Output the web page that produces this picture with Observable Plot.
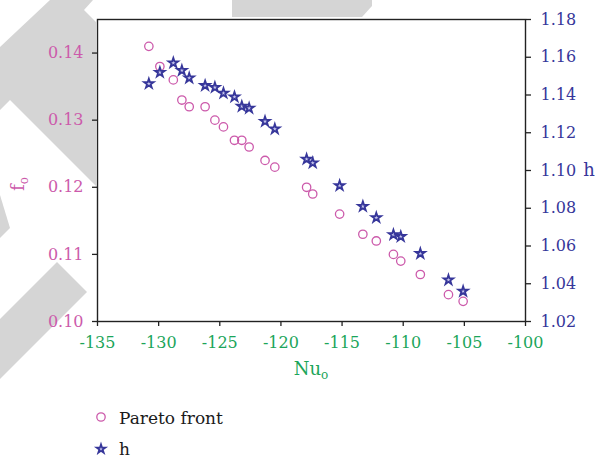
<!DOCTYPE html>
<html>
<head>
<meta charset="utf-8">
<script src="https://cdn.jsdelivr.net/npm/d3@7"></script>
<script src="https://cdn.jsdelivr.net/npm/@observablehq/plot@0.6"></script>
<style>
  body { margin: 0; background: #fff; font-family: "DejaVu Serif", serif; }
  #wrap { position: relative; width: 600px; height: 460px; overflow: hidden; }
  #wm, #chart { position: absolute; left: 0; top: 0; }
  #legend { position: absolute; left: 0; top: 0; width: 600px; height: 460px; }
  .row { position: absolute; left: 92px; display: flex; align-items: center; font-size: 17px; color: #1a1a1a; }
  .row svg { margin-right: 9px; }
  svg text { font-family: "DejaVu Serif", serif; }
</style>
</head>
<body>
<div id="wrap">
  <!-- faint background decoration -->
  <svg id="wm" width="600" height="460">
    <g fill="#d5d5d5">
      <polygon points="50,0 93,0 84,10 96,22 96,186 10,100 0,110 0,47"/>
      <polygon points="0,195 10,228 0,238"/>
      <polygon points="57,262 87,292 0,379 0,319"/>
      <polygon points="232,0 372,0 372,6 362,17 232,17"/>
    </g>
  </svg>
  <div id="chart"></div>
  <div id="legend"></div>
</div>
<script>
// Nusselt number of each Pareto-optimal design
const nu = [-130.8, -129.9, -128.8, -128.1, -127.5, -126.2, -125.4, -124.7, -123.8, -123.2, -122.6,
            -121.3, -120.5, -117.9, -117.4, -115.2, -113.3, -112.2, -110.8, -110.2, -108.6, -106.3, -105.1];
// friction factor f_o along the Pareto front
const fo = [0.141, 0.138, 0.136, 0.133, 0.132, 0.132, 0.130, 0.129, 0.127, 0.127, 0.126,
            0.124, 0.123, 0.120, 0.119, 0.116, 0.113, 0.112, 0.110, 0.109, 0.107, 0.104, 0.103];
// design variable h for the same designs
const hv = [1.146, 1.152, 1.157, 1.153, 1.149, 1.145, 1.144, 1.141, 1.139, 1.134, 1.133,
            1.126, 1.122, 1.106, 1.104, 1.092, 1.081, 1.075, 1.066, 1.065, 1.056, 1.042, 1.036];

const xTicks = [-135, -130, -125, -120, -115, -110, -105, -100];
const fTicks = [0.10, 0.11, 0.12, 0.13, 0.14];
const hTicks = [1.02, 1.04, 1.06, 1.08, 1.10, 1.12, 1.14, 1.16, 1.18];

const pink = "#cc5aab";
const navy = "#36369a";
const green = "#1ba55a";
const serif = "'DejaVu Serif', serif";

const rows = nu.map((n, i) => ({nu: n, f: fo[i], h: hv[i]}));

// the h axis shares the vertical scale through a linear mapping onto the f_o domain
const fDomain = [0.10, 0.145];
const hDomain = [1.02, 1.18];
const hToF = d3.scaleLinear().domain(hDomain).range(fDomain);

const plot = Plot.plot({
  width: 600,
  height: 390,
  marginTop: 19,
  marginRight: 75,
  marginBottom: 69,
  marginLeft: 97,
  style: {background: "transparent", fontFamily: serif, fontSize: "16px"},
  x: {domain: [-135, -100]},
  y: {domain: fDomain},
  marks: [
    Plot.frame({fill: "white", stroke: null}),
    Plot.axisX(xTicks, {tickSize: 5, tickPadding: 10, tickFormat: d => String(d), fill: green, stroke: "#222", strokeWidth: 1.3, label: null}),
    Plot.axisY(fTicks, {anchor: "left", tickSize: 5, tickPadding: 9, tickFormat: d => d.toFixed(2), fill: pink, stroke: "#222", strokeWidth: 1.3, label: null}),
    Plot.axisY(hTicks.map(hToF), {anchor: "right", tickSize: 5, tickPadding: 10, tickFormat: d => hToF.invert(d).toFixed(2), fill: navy, stroke: "#222", strokeWidth: 1.3, label: null}),
    Plot.frame({stroke: "#222", strokeWidth: 1.4}),
    Plot.dot(rows, {x: "nu", y: "f", r: 4.2, stroke: pink, strokeWidth: 1.3, fill: "none"}),
    Plot.dot(rows, {x: "nu", y: d => hToF(d.h), symbol: "star", r: 3.0, stroke: navy, strokeWidth: 1.8, fill: "#c8c8ee"})
  ]
});

document.getElementById("chart").append(plot);

// axis titles with subscripts
const svg = d3.select(plot);
const fLabel = svg.append("text")
  .attr("transform", "translate(24,184) rotate(-90)")
  .attr("text-anchor", "middle")
  .attr("fill", pink)
  .attr("font-size", 18);
fLabel.append("tspan").text("f");
fLabel.append("tspan").attr("dy", "0.3em").attr("font-size", 12).text("o");

svg.append("text")
  .attr("x", 589).attr("y", 176)
  .attr("fill", navy)
  .attr("font-size", 18)
  .text("h");

const nuLabel = svg.append("text")
  .attr("x", 311).attr("y", 375)
  .attr("text-anchor", "middle")
  .attr("fill", green)
  .attr("font-size", 18);
nuLabel.append("tspan").text("Nu");
nuLabel.append("tspan").attr("dy", "0.3em").attr("font-size", 12).text("o");

// legend below the chart
const legend = d3.select("#legend");
const items = [
  {label: "Pareto front", top: 408, draw: g => g.append("circle").attr("cx", 9).attr("cy", 9).attr("r", 4.2).attr("fill", "none").attr("stroke", pink).attr("stroke-width", 1.3)},
  {label: "h", top: 439, draw: g => g.append("path").attr("transform", "translate(9,10)").attr("d", d3.symbol(d3.symbolStar, Math.PI * 2.8 * 2.8)()).attr("fill", "#c8c8ee").attr("stroke", navy).attr("stroke-width", 1.7)}
];
for (const it of items) {
  const row = legend.append("div").attr("class", "row").style("top", it.top + "px");
  const s = row.append("svg").attr("width", 18).attr("height", 20);
  it.draw(s);
  row.append("span").text(it.label);
}
</script>
</body>
</html>
